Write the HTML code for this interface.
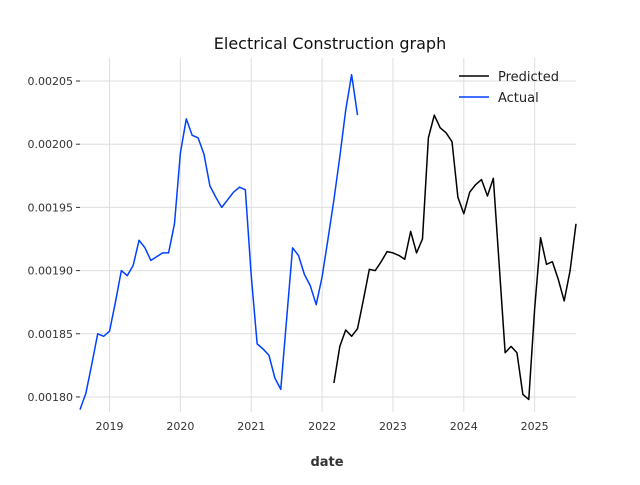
<!DOCTYPE html>
<html><head><meta charset="utf-8"><style>
body{margin:0;background:#fff;font-family:"Liberation Sans","DejaVu Sans",sans-serif}
</style></head><body>
<svg id="chart" width="640" height="480" font-family="DejaVu Sans, Liberation Sans, sans-serif">
<rect width="640" height="480" fill="#fff"/>
<text x="330" y="49" text-anchor="middle" font-size="16" fill="#111">Electrical Construction graph</text>
<g id="grid"></g><g id="ticks"></g><g id="series"></g>
<text x="327" y="466" text-anchor="middle" font-size="13" font-weight="bold" fill="#333">date</text>
<g>
<line x1="459" y1="76" x2="489" y2="76" stroke="#000" stroke-width="1.5"/>
<text x="498" y="81" font-size="13" fill="#222">Predicted</text>
<line x1="459" y1="97" x2="489" y2="97" stroke="#0040ff" stroke-width="1.5"/>
<text x="498" y="102" font-size="13" fill="#222">Actual</text>
</g>
</svg>
<script>
const actualStart = 2018 + 7/12;
const actualValues = [0.001790,0.001803,0.001826,0.001850,0.001848,0.001852,0.001875,0.001900,0.001896,0.001904,0.001924,0.001918,0.001908,0.001911,0.001914,0.001914,0.001937,0.001993,0.002020,0.002007,0.002005,0.001992,0.001967,0.001958,0.001950,0.001956,0.001962,0.001966,0.001964,0.001896,0.001842,0.001838,0.001833,0.001815,0.001806,0.001862,0.001918,0.001912,0.001897,0.001888,0.001873,0.001895,0.001925,0.001956,0.001990,0.002027,0.002055,0.002023];
const predStart = 2022 + 2/12;
const predValues = [0.001811,0.001840,0.001853,0.001848,0.001854,0.001877,0.001901,0.001900,0.001907,0.001915,0.001914,0.001912,0.001909,0.001931,0.001914,0.001925,0.002005,0.002023,0.002013,0.002009,0.002002,0.001958,0.001945,0.001962,0.001968,0.001972,0.001959,0.001973,0.001904,0.001835,0.001840,0.001835,0.001802,0.001798,0.001870,0.001926,0.001905,0.001907,0.001893,0.001876,0.001900,0.001937];
const yTicks = [0.00180,0.00185,0.00190,0.00195,0.00200,0.00205];
const yTickLabels = ["0.00180","0.00185","0.00190","0.00195","0.00200","0.00205"];
const xTicks = [2019,2020,2021,2022,2023,2024,2025];
const xTickLabels = ["2019","2020","2021","2022","2023","2024","2025"];

const X0=80,X1=576,Y0=58,Y1=412;
const xMin=2018+7/12,xMax=2025+7/12;
const yMin=0.0017881,yMax=0.0020682;
const xs=t=>X0+(t-xMin)/(xMax-xMin)*(X1-X0);
const ys=v=>Y1-(v-yMin)/(yMax-yMin)*(Y1-Y0);
const NS="http://www.w3.org/2000/svg";
function mk(tag,attrs,parent){const e=document.createElementNS(NS,tag);for(const k in attrs)e.setAttribute(k,attrs[k]);parent.appendChild(e);return e;}
const grid=document.getElementById('grid'),ticks=document.getElementById('ticks'),series=document.getElementById('series');
yTicks.forEach((v,i)=>{const y=ys(v);
 const g=mk('line',{x1:X0,x2:X1,y1:y,y2:y,stroke:'#dedede','stroke-width':1},grid);
 
 
 const tm=mk('line',{x1:X0-4,x2:X0,y1:y,y2:y,stroke:'#333','stroke-width':1},ticks);
 
 
 const t=mk('text',{x:X0-7,y:y+4,'text-anchor':'end','font-size':11,fill:'#333'},ticks);t.textContent=yTickLabels[i];
 
 
});
xTicks.forEach((v,i)=>{const x=xs(v);
 const g=mk('line',{x1:x,x2:x,y1:Y0,y2:Y1,stroke:'#dedede','stroke-width':1},grid);
 
 
 const t=mk('text',{x:x,y:Y1+18,'text-anchor':'middle','font-size':11,fill:'#333'},ticks);t.textContent=xTickLabels[i];
 
 
});
function line(start,vals,color,name){
 const pts=vals.map((v,i)=>xs(start+i/12).toFixed(2)+','+ys(v).toFixed(2)).join(' ');
 const p=mk('polyline',{points:pts,fill:'none',stroke:color,'stroke-width':1.5,'stroke-linejoin':'round'},series);
 
 
}
line(actualStart,actualValues,'#0040ff','actual-line');
line(predStart,predValues,'#000','predicted-line');
</script>
</body></html>
